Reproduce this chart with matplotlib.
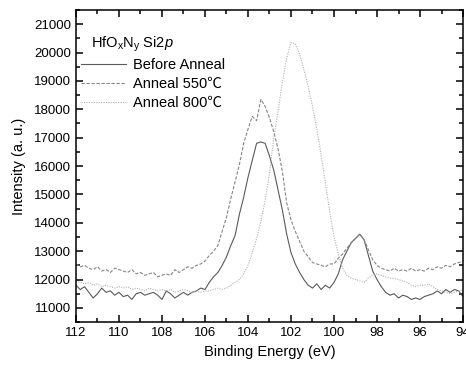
import numpy as np
import matplotlib
matplotlib.use('Agg')
import matplotlib.pyplot as plt

plt.rcParams['font.family'] = ['Liberation Sans', 'Noto Sans CJK SC', 'DejaVu Sans']
plt.rcParams['mathtext.fontset'] = 'custom'
plt.rcParams['mathtext.rm'] = 'Liberation Sans'
plt.rcParams['mathtext.it'] = 'Liberation Sans:italic'

# binding energy grid, 112 -> 94 eV in 0.2 eV steps
energy = np.round(np.arange(112.0, 93.99, -0.2), 1)

before_anneal = [
    11800, 11650, 11750, 11550, 11350, 11500, 11700, 11550, 11600, 11450, 11550,
    11400, 11450, 11300, 11500, 11550, 11450, 11500, 11550, 11450, 11300,
    11600, 11500, 11350, 11450, 11550, 11450, 11550, 11600, 11700, 11650,
    11900, 12100, 12250, 12500, 12800, 13200, 13550, 14300, 14900, 15600,
    16200, 16800, 16850, 16800, 16350, 15850, 15150, 14450, 13600, 12950,
    12550, 12250, 12000, 11800, 11700, 11850, 11650, 11800, 11700, 11900,
    12200, 12700, 13000, 13300, 13450, 13600, 13400, 12850, 12300, 12000,
    11750, 11550, 11450, 11500, 11350, 11450, 11400, 11300, 11350, 11300,
    11400, 11450, 11500, 11600, 11500, 11650, 11550, 11650, 11600, 11400,
]

anneal_550 = [
    12550, 12450, 12500, 12400, 12350, 12450, 12300, 12350, 12250, 12400, 12350,
    12300, 12250, 12350, 12200, 12250, 12150, 12200, 12250, 12100, 12150,
    12200, 12150, 12350, 12250, 12350, 12450, 12400, 12500, 12550, 12650,
    12850, 13000, 13200, 13700, 14200, 14850, 15450, 16050, 16800, 17300,
    17750, 17600, 18350, 18100, 17700, 17200, 16600, 15800, 14700, 14100,
    13700, 13350, 13000, 12800, 12600, 12550, 12500, 12450, 12550, 12550,
    12750, 12900, 13100, 13300, 13450, 13600, 13400, 13050, 12700, 12500,
    12400, 12350, 12300, 12400, 12300, 12350, 12300, 12400, 12300, 12350,
    12300, 12400, 12350, 12450, 12400, 12500, 12450, 12550, 12600, 12650,
]

anneal_800 = [
    11950, 11900, 11850, 11900, 11800, 11850, 11750, 11800, 11750, 11700, 11750,
    11700, 11750, 11650, 11700, 11650, 11600, 11700, 11650, 11600, 11650,
    11600, 11650, 11550, 11600, 11650, 11600, 11550, 11600, 11550, 11600,
    11600, 11650, 11700, 11650, 11700, 11800, 11900, 12000, 12200, 12500,
    12950, 13450, 14050, 14800, 15750, 17000, 17950, 18950, 19800, 20350,
    20300, 19950, 19400, 18800, 18100, 17300, 16400, 15400, 14400, 13500,
    12900, 12400, 12150, 12050, 12000, 11950, 11900, 12050, 12150, 12200,
    12150, 12100, 12050, 12050, 12000, 11950, 11900, 11800, 11750, 11800,
    11800, 11850, 11750, 11650, 11600, 11550, 11500, 11550, 11600, 11650,
]

labels = ['Before Anneal', 'Anneal 550\u2103', 'Anneal 800\u2103']

fig = plt.figure(figsize=(4.66, 3.69), dpi=100)
ax = fig.add_axes([0.163, 0.127, 0.8306, 0.846])

ax.plot(energy, before_anneal, color='#5a5a5a', lw=0.8, ls='-', label=labels[0])
ax.plot(energy, anneal_550, color='#858585', lw=0.8, ls=(0, (3, 1.5)), label=labels[1])
ax.plot(energy, anneal_800, color='#b0b0b0', lw=0.8, ls=(0, (1, 1.2)), label=labels[2])

ax.set_xlim(112, 94)
ax.set_ylim(10500, 21500)
ax.set_xticks(np.arange(112, 93, -2))
ax.set_xticks(np.arange(111, 94, -2), minor=True)
ax.set_yticks(np.arange(11000, 21001, 1000))
ax.set_yticks(np.arange(10500, 21501, 1000), minor=True)
ax.tick_params(which='both', direction='in', top=True, right=True, labelsize=9.5, width=1.1)
ax.tick_params(which='major', length=5)
ax.tick_params(which='minor', length=3)
for s in ax.spines.values():
    s.set_linewidth(1.1)

ax.set_xlabel('Binding Energy (eV)', fontsize=10.5, labelpad=4)
ax.set_ylabel('Intensity (a. u.)', fontsize=10.5, labelpad=6)

ax.text(0.039, 0.89, 'HfO$_\\mathregular{x}$N$_\\mathregular{y}$ Si2$p$', transform=ax.transAxes,
        fontsize=10.5, va='center', ha='left')
ax.legend(loc='upper left', bbox_to_anchor=(0.012, 0.846), frameon=False, fontsize=10.5,
          handlelength=3.1, handletextpad=0.5, labelspacing=0.35, borderpad=0, borderaxespad=0)

fig.savefig('out.png', dpi=100)
